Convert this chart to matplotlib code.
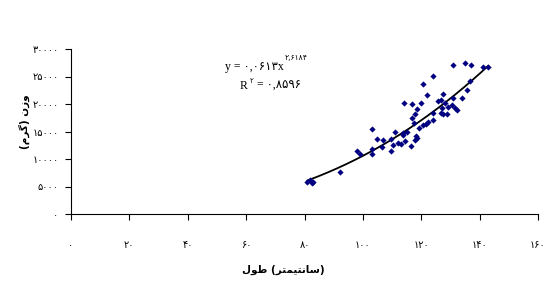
import numpy as np
import matplotlib.pyplot as plt

# height (cm) vs weight (g)
height = [81, 82, 82.5, 83, 92, 98, 99, 103, 103, 103, 104.7, 106.7, 107, 109.8, 109.8,
          110.4, 111, 112.1, 113.2, 113.8, 114.4, 115, 114, 117, 117, 117.5, 117.8, 117.8,
          118.4, 118.6, 119.3, 119.9, 120.7, 120.7, 121.5, 121.8, 122.4, 124.1, 124.1, 124.1,
          125.8, 126.9, 126.9, 127.5, 127.5, 128.1, 128.7, 129.2, 130.7, 130.9, 130.9, 131.5,
          132.3, 133.8, 134.9, 135.7, 136.6, 136.9, 141, 142.9, 118.3, 116.5, 113.7, 127.0]
weight = [5800, 6100, 5700, 5900, 7600, 11500, 11000, 11900, 11000, 15400, 13600, 12100,
          13400, 13600, 11500, 12500, 15000, 12900, 12700, 14700, 13200, 15000, 20200, 20000,
          17400, 16500, 18200, 13500, 19000, 13900, 15600, 20100, 23600, 16200, 16300, 21600,
          16800, 25100, 17000, 18300, 20600, 20800, 18400, 21900, 18200, 20200, 18100, 19500,
          19800, 21000, 27100, 19200, 18900, 21000, 27500, 22500, 24100, 27100, 26700, 26700,
          14200, 12400, 14300, 19300]

# power trendline y = a * x^b
a, b = 0.0613, 2.6184

xticks = [0, 20, 40, 60, 80, 100, 120, 140, 160]
yticks = [0, 5000, 10000, 15000, 20000, 25000, 30000]

fa = str.maketrans("0123456789", "۰۱۲۳۴۵۶۷۸۹")
def fa_num(v):
    return str(v).translate(fa)

# labels written with presentation forms so the letters join
xlabel = "\uFEDD\uFEEE\uFEC3 (" + "\uFEAE\uFE98\uFEE4\uFEF4\uFE98\uFEE7\uFE8E\uFEB3" + ")"
ylabel = "(" + "\uFEE1\uFEAE\uFB94" + ") " + "\uFEE5\uFEAF\uFEED"

W, H = 560, 291
fig = plt.figure(figsize=(5.6, 2.91), dpi=100)
ax = fig.add_axes([71 / W, 1 - 214 / H, (538 - 71) / W, (214 - 49) / H])

ax.scatter(height, weight, marker="D", s=10, color="#000080", zorder=3, linewidths=0)
xs = np.linspace(min(height), max(height), 200)
ax.plot(xs, a * xs ** b, color="black", lw=1.3, zorder=2)

ax.set_xlim(0, 160)
ax.set_ylim(0, 30000)
ax.set_xticks(xticks)
ax.set_yticks(yticks)
ax.set_xticklabels([fa_num(t) for t in xticks], fontsize=7, family="DejaVu Sans")
ax.set_yticklabels([fa_num(t) for t in yticks], fontsize=7, family="DejaVu Sans")
ax.tick_params(axis="x", direction="out", length=4, width=0.8, pad=15)
ax.tick_params(axis="y", direction="out", length=4, width=0.8, pad=5)
for s in ["top", "right"]:
    ax.spines[s].set_visible(False)
for s in ["left", "bottom"]:
    ax.spines[s].set_linewidth(0.8)

fig.text(283 / W, 1 - 270 / H, xlabel, ha="center", va="center", fontsize=7.5,
         fontweight="bold", family="DejaVu Sans")
fig.text(24 / W, 1 - 122 / H, ylabel, ha="center", va="center", fontsize=7.5,
         fontweight="bold", rotation=90, family="DejaVu Sans")

# trendline equation
fam = ["Liberation Serif", "DejaVu Sans"]
fig.text(225 / W, 1 - 70 / H, "y = " + fa_num("0,0613") + "x", fontsize=8.5,
         family=fam, va="baseline")
fig.text(285 / W, 1 - 60 / H, fa_num("2,6184"), fontsize=5.5, family="DejaVu Sans",
         va="baseline")
fig.text(240 / W, 1 - 89 / H, "R", fontsize=8.5, family=fam, va="baseline")
fig.text(250 / W, 1 - 83 / H, fa_num("2"), fontsize=5, family="DejaVu Sans", va="baseline")
fig.text(257 / W, 1 - 89 / H, "= " + fa_num("0,8596"), fontsize=8.5, family=fam,
         va="baseline")

fig.savefig("out.png", dpi=100, facecolor="white")
